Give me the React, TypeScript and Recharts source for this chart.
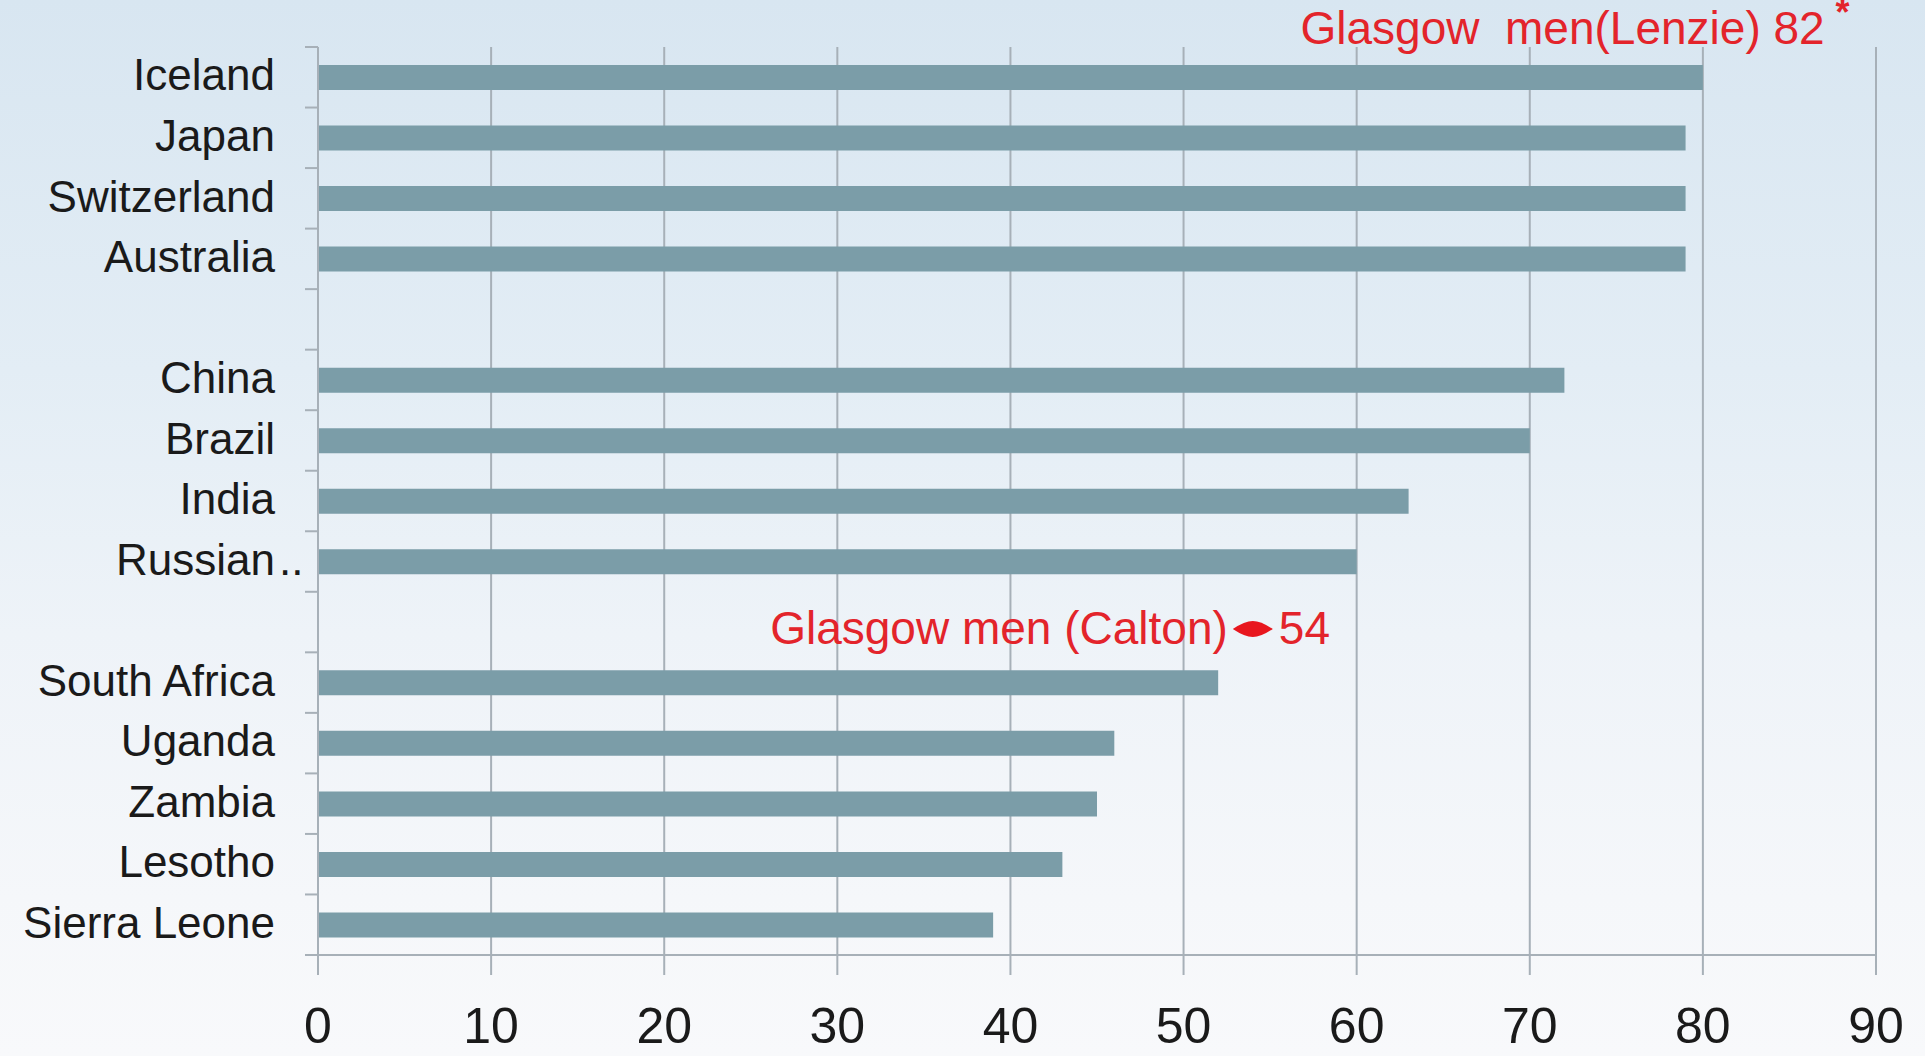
import { BarChart, Bar, XAxis, YAxis, CartesianGrid, ReferenceDot } from 'recharts'

// rows top to bottom, gaps are empty slots in the original layout
const countries = [
  'Iceland', 'Japan', 'Switzerland', 'Australia', 'gap1',
  'China', 'Brazil', 'India', 'Russian..', 'gap2',
  'South Africa', 'Uganda', 'Zambia', 'Lesotho', 'Sierra Leone',
]
const lifeExpectancy = [80, 79, 79, 79, null, 72, 70, 63, 60, null, 52, 46, 45, 43, 39]
const xTicks = [0, 10, 20, 30, 40, 50, 60, 70, 80, 90]

const lenzie = { label: 'Glasgow  men(Lenzie) 82', value: 82, row: 'Iceland' }
const calton = { label: 'Glasgow men (Calton)', value: 54, row: 'gap2' }

const data = countries.map((name, i) => ({ name, value: lifeExpectancy[i] }))

const W = 1925
const H = 1056
const MARGIN = { top: 47, right: 49, bottom: 0, left: 0 }
const X_AXIS_H = 101
const Y_AXIS_W = 318
const BAND = (H - MARGIN.top - MARGIN.bottom - X_AXIS_H) / countries.length

const FONT = '"Liberation Sans", Arial, Helvetica, sans-serif'
const RED = '#e3242b'
const GRID = '#a7b0b8'
const LABEL_GAP = 43

function CountryTick(props: any) {
  const { x, y, payload, index } = props
  const name: string = payload.value
  const axisX = x + LABEL_GAP
  const isGap = name.startsWith('gap')
  const dots = name.endsWith('..')
  const main = dots ? name.slice(0, -2) : name
  return (
    <g>
      <line x1={axisX - 13} x2={axisX} y1={y - BAND / 2} y2={y - BAND / 2} stroke={GRID} strokeWidth={2} />
      {index === countries.length - 1 && (
        <line x1={axisX - 13} x2={axisX} y1={y + BAND / 2} y2={y + BAND / 2} stroke={GRID} strokeWidth={2} />
      )}
      {!isGap && (
        <text x={x} y={y} dy="0.3em" textAnchor="end" fontSize={44} fill="#1a1a1a" fontFamily={FONT}>
          {main}
        </text>
      )}
      {dots && (
        <text x={x + 4} y={y} dy="0.3em" textAnchor="start" fontSize={44} fill="#1a1a1a" fontFamily={FONT}>
          ..
        </text>
      )}
    </g>
  )
}

function LenzieLabel(props: any) {
  const { viewBox } = props
  const cx = viewBox.x
  const cy = viewBox.y
  return (
    <g fontFamily={FONT}>
      <text x={cx - 437} y={cy - 33} fontSize={46} fill={RED} style={{ whiteSpace: 'pre' }}>
        {lenzie.label}
      </text>
      <text x={cx + 105} y={cy - 52} textAnchor="middle" fontSize={36} fontWeight="bold" fill={RED}>
        *
      </text>
    </g>
  )
}

function CaltonMarker(props: any) {
  const { cx, cy } = props
  const my = cy + 7
  return (
    <g fontFamily={FONT}>
      <path
        d={`M${cx - 20},${my} Q${cx - 8},${my - 8} ${cx},${my - 8} Q${cx + 8},${my - 8} ${cx + 20},${my} Q${cx + 8},${my + 8} ${cx},${my + 8} Q${cx - 8},${my + 8} ${cx - 20},${my} Z`}
        fill="#e8161e"
      />
      <text x={cx - 25} y={my + 15} textAnchor="end" fontSize={46} fill={RED}>
        {calton.label}
      </text>
      <text x={cx + 26} y={my + 15} textAnchor="start" fontSize={46} fill={RED}>
        {calton.value}
      </text>
    </g>
  )
}

export default function App() {
  return (
    <div
      style={{
        position: 'absolute',
        left: 0,
        top: 0,
        width: W,
        height: H,
        background: 'linear-gradient(to bottom, #d8e6f1 0%, #e3edf5 35%, #eef3f8 60%, #f5f7fa 85%, #f8f9fb 100%)',
        fontFamily: FONT,
      }}
    >
      <BarChart width={W} height={H} data={data} layout="vertical" margin={MARGIN}>
        <CartesianGrid horizontal={false} vertical stroke={GRID} strokeWidth={2} />
        <XAxis
          type="number"
          domain={[0, 90]}
          ticks={xTicks}
          height={X_AXIS_H}
          stroke={GRID}
          tickSize={20}
          tickMargin={32}
          axisLine={{ stroke: GRID, strokeWidth: 2 }}
          tickLine={{ stroke: GRID, strokeWidth: 2 }}
          tick={{ fontSize: 50, fill: '#1a1a1a', fontFamily: FONT }}
        />
        <YAxis
          type="category"
          dataKey="name"
          width={Y_AXIS_W}
          tickSize={0}
          tickMargin={LABEL_GAP}
          tickLine={false}
          axisLine={{ stroke: GRID, strokeWidth: 2 }}
          tick={<CountryTick />}
          interval={0}
        />
        <Bar dataKey="value" fill="#7b9da8" barSize={25} isAnimationActive={false} />
        <ReferenceDot
          x={lenzie.value}
          y={lenzie.row}
          r={0}
          fill="none"
          stroke="none"
          label={<LenzieLabel />}
        />
        <ReferenceDot
          x={calton.value}
          y={calton.row}
          r={8}
          shape={<CaltonMarker />}
        />
      </BarChart>
    </div>
  )
}
